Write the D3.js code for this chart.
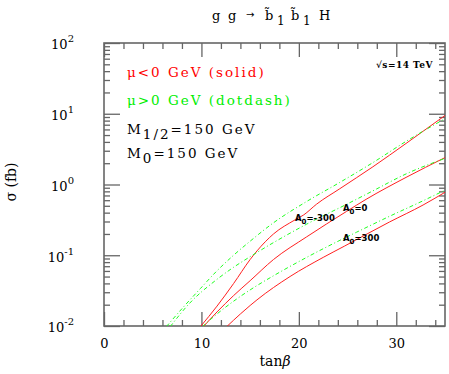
<!DOCTYPE html>
<html>
<head>
<meta charset="utf-8">
<style>
  body { margin: 0; background: #fff; }
  svg { display: block; background: #fff; }
  .serif { font-family: "DejaVu Serif", serif; }
</style>
</head>
<body>
<div id="chart"></div>
<script src="https://d3js.org/d3.v7.min.js"></script>
<script>
// tan(beta) and sigma (fb), one pair of arrays per curve
var tanbNegM300 = [9.9, 11.6, 13.3, 15.0, 15.7, 17.4, 19.6, 20.5, 21.8, 24.2, 27.6, 31.0, 35.0];
var sigNegM300  = [0.0098, 0.0191, 0.0398, 0.0871, 0.115, 0.200, 0.316, 0.372, 0.525, 0.871, 1.78, 3.80, 9.44];

var tanbPosM300 = [6.4, 8.1, 9.9, 11.6, 13.3, 15.0, 17.4, 20.8, 24.2, 27.6, 31.0, 35.0];
var sigPosM300  = [0.0098, 0.0182, 0.0339, 0.0603, 0.100, 0.158, 0.288, 0.575, 1.07, 2.04, 4.07, 8.51];

var tanbNeg0 = [10.2, 11.6, 13.3, 15.0, 17.4, 20.8, 24.9, 26.9, 31.0, 35.0];
var sigNeg0  = [0.0098, 0.0158, 0.0269, 0.0437, 0.0871, 0.182, 0.417, 0.617, 1.26, 2.40];

var tanbPos0 = [6.8, 8.65, 11.6, 13.3, 15.0, 17.4, 20.8, 24.9, 27.6, 31.0, 35.0];
var sigPos0  = [0.0098, 0.0200, 0.0457, 0.0676, 0.0955, 0.151, 0.275, 0.525, 0.813, 1.41, 2.34];

var tanbNegP300 = [12.6, 14.0, 15.0, 15.7, 19.1, 22.5, 24.7, 29.3, 32.75, 35.0];
var sigNegP300  = [0.0098, 0.0148, 0.0195, 0.0234, 0.0501, 0.0933, 0.135, 0.295, 0.513, 0.776];

var tanbPosP300 = [10.1, 11.6, 13.3, 15.0, 17.4, 20.8, 24.5, 25.9, 29.3, 32.75, 35.0];
var sigPosP300  = [0.0098, 0.0148, 0.0224, 0.0324, 0.0513, 0.0933, 0.170, 0.211, 0.355, 0.589, 0.832];

var xMajor = [0, 10, 20, 30];
var xMinor = [2, 4, 6, 8, 12, 14, 16, 18, 22, 24, 26, 28, 32, 34];
var yDecades = [0.01, 0.1, 1, 10, 100];
var yExponents = ["-2", "-1", "0", "1", "2"];

var width = 449, height = 374;
var svg = d3.select("#chart").append("svg")
  .attr("width", width)
  .attr("height", height);

var x = d3.scaleLinear().domain([0, 35]).range([104, 445]);
var y = d3.scaleLog().domain([0.01, 100]).range([326, 43]);

var yMinor = [];
yDecades.slice(0, -1).forEach(function(d) {
  for (var k = 2; k <= 9; k++) yMinor.push(d * k);
});

svg.append("clipPath").attr("id", "clip")
  .append("rect")
  .attr("x", x(0)).attr("y", y(100))
  .attr("width", x(35) - x(0)).attr("height", y(0.01) - y(100));

// axes (ticks pointing inward on all four sides)
function styleAxis(g) {
  g.select(".domain").remove();
  g.selectAll(".tick line").attr("stroke", "#666").attr("stroke-width", 1.3);
}

svg.append("g").attr("transform", "translate(0," + y(0.01) + ")")
  .call(d3.axisBottom(x).tickValues(xMajor).tickSize(-14).tickPadding(22))
  .call(styleAxis)
  .call(function(g) {
    g.selectAll("text").attr("class", "serif").attr("font-size", 13).attr("fill", "#000")
      .attr("dy", 0);
  });
svg.append("g").attr("transform", "translate(0," + y(0.01) + ")")
  .call(d3.axisBottom(x).tickValues(xMinor).tickSize(-6).tickFormat(""))
  .call(styleAxis);
svg.append("g").attr("transform", "translate(0," + y(100) + ")")
  .call(d3.axisTop(x).tickValues(xMajor).tickSize(-14).tickFormat(""))
  .call(styleAxis);
svg.append("g").attr("transform", "translate(0," + y(100) + ")")
  .call(d3.axisTop(x).tickValues(xMinor).tickSize(-6).tickFormat(""))
  .call(styleAxis);

svg.append("g").attr("transform", "translate(" + x(0) + ",0)")
  .call(d3.axisLeft(y).tickValues(yDecades).tickSize(-16).tickPadding(30))
  .call(styleAxis)
  .call(function(g) {
    g.selectAll("text").attr("class", "serif").attr("font-size", 13).attr("fill", "#000")
      .attr("dy", "0.45em")
      .each(function(d, i) {
        var t = d3.select(this).text("");
        t.append("tspan").text("10");
        t.append("tspan").attr("dy", -7).attr("font-size", 10).text(yExponents[i]);
      });
  });
svg.append("g").attr("transform", "translate(" + x(0) + ",0)")
  .call(d3.axisLeft(y).tickValues(yMinor).tickSize(-6).tickFormat(""))
  .call(styleAxis);
svg.append("g").attr("transform", "translate(" + x(35) + ",0)")
  .call(d3.axisRight(y).tickValues(yDecades).tickSize(-16).tickFormat(""))
  .call(styleAxis);
svg.append("g").attr("transform", "translate(" + x(35) + ",0)")
  .call(d3.axisRight(y).tickValues(yMinor).tickSize(-6).tickFormat(""))
  .call(styleAxis);

svg.append("rect")
  .attr("x", x(0)).attr("y", y(100))
  .attr("width", x(35) - x(0)).attr("height", y(0.01) - y(100))
  .attr("fill", "none").attr("stroke", "#666").attr("stroke-width", 1.6);

// curves
var line = d3.line()
  .x(function(d) { return x(d[0]); })
  .y(function(d) { return y(d[1]); })
  .curve(d3.curveMonotoneX);

var curves = [
  [tanbNegM300, sigNegM300, "neg"],
  [tanbPosM300, sigPosM300, "pos"],
  [tanbNeg0, sigNeg0, "neg"],
  [tanbPos0, sigPos0, "pos"],
  [tanbNegP300, sigNegP300, "neg"],
  [tanbPosP300, sigPosP300, "pos"]
];

svg.append("g").attr("clip-path", "url(#clip)")
  .selectAll("path")
  .data(curves)
  .enter().append("path")
  .attr("d", function(c) { return line(d3.zip(c[0], c[1])); })
  .attr("fill", "none")
  .attr("stroke", function(c) { return c[2] == "neg" ? "#ff2020" : "#20ff20"; })
  .attr("stroke-width", 1)
  .attr("stroke-dasharray", function(c) { return c[2] == "neg" ? null : "4,2.5,1,2.5"; });

// curve labels
function a0Label(px, py, val) {
  var t = svg.append("text")
    .attr("x", px).attr("y", py)
    .attr("font-family", "DejaVu Sans").attr("font-weight", "bold")
    .attr("font-size", 8.5);
  t.append("tspan").text("A");
  t.append("tspan").attr("dy", 2.5).attr("font-size", 7).text("0");
  t.append("tspan").attr("dy", -2.5).text("=" + val);
}
a0Label(295, 221, "-300");
a0Label(343, 211, "0");
a0Label(343, 241, "300");

// title
var title = svg.append("text").attr("class", "serif").attr("font-size", 13).attr("y", 20);
title.append("tspan").attr("x", 212).text("g");
title.append("tspan").attr("x", 228).text("g");
title.append("tspan").attr("x", 246).attr("font-family", "DejaVu Sans").attr("font-size", 10)
  .attr("dy", -2).text("\u2192");
title.append("tspan").attr("x", 265).attr("dy", 2).text("b\u0303");
title.append("tspan").attr("x", 277).attr("dy", 5).attr("font-size", 12).text("1");
title.append("tspan").attr("x", 291).attr("dy", -5).text("b\u0303");
title.append("tspan").attr("x", 303).attr("dy", 5).attr("font-size", 12).text("1");
title.append("tspan").attr("x", 319).attr("dy", -5).text("H");

// legend text
function legendLine(py, color) {
  return svg.append("text").attr("class", "serif")
    .attr("x", 127).attr("y", py)
    .attr("font-size", 13.5).attr("letter-spacing", 2)
    .attr("fill", color);
}
legendLine(77, "#ff0000").text("\u03bc<0 GeV (solid)");
legendLine(105, "#00ee00").text("\u03bc>0 GeV (dotdash)");
var m12 = legendLine(134, "#000");
m12.append("tspan").text("M");
m12.append("tspan").attr("dy", 5).text("1/2");
m12.append("tspan").attr("dy", -5).text("=150 GeV");
var m0 = legendLine(158, "#000");
m0.append("tspan").text("M");
m0.append("tspan").attr("dy", 5).text("0");
m0.append("tspan").attr("dy", -5).text("=150 GeV");

svg.append("text").attr("class", "serif")
  .attr("x", 433).attr("y", 68).attr("text-anchor", "end")
  .attr("font-size", 9).attr("font-weight", "bold").attr("letter-spacing", 0.5)
  .text("\u221as=14 TeV");

// axis titles
var xt = svg.append("text").attr("class", "serif")
  .attr("x", 275).attr("y", 366).attr("text-anchor", "middle").attr("font-size", 14);
xt.append("tspan").text("tan");
xt.append("tspan").attr("font-style", "italic").text("\u03b2");

svg.append("text").attr("class", "serif")
  .attr("transform", "translate(16,182) rotate(-90)")
  .attr("text-anchor", "middle").attr("font-size", 14)
  .text("\u03c3 (fb)");
</script>
</body>
</html>
